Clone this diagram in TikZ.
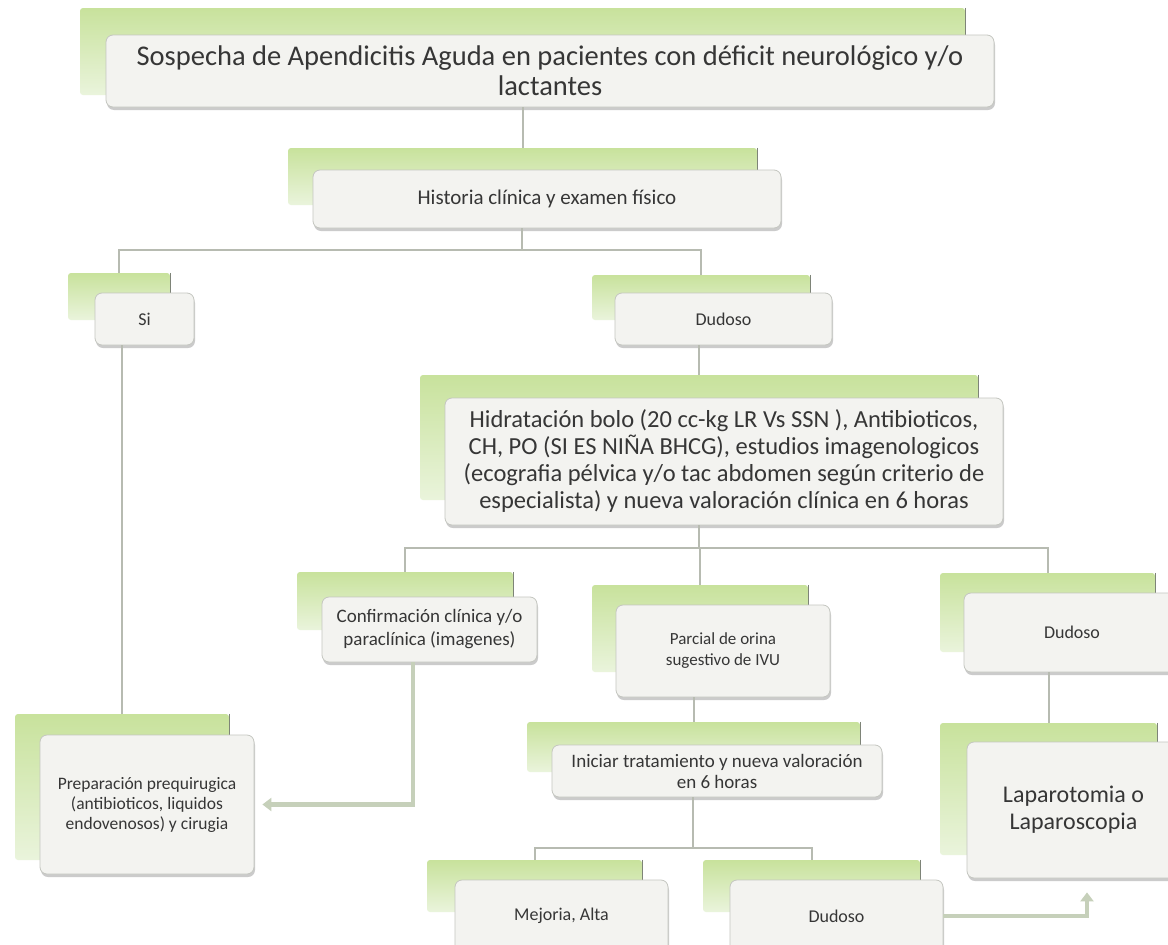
\documentclass[tikz,border=0pt]{standalone}
\usepackage{fontspec}
\setmainfont{Carlito}
\usetikzlibrary{shadows,arrows.meta,calc}
\definecolor{gtop}{HTML}{C8E29C}
\definecolor{gbot}{HTML}{EAF4DC}
\definecolor{gedgec}{HTML}{7E8478}
\definecolor{wfill}{HTML}{F3F3F0}
\definecolor{wdraw}{HTML}{C4C6C0}
\definecolor{lcol}{HTML}{B7BBB1}
\definecolor{acol}{HTML}{C6D0BA}
\definecolor{txt}{HTML}{363636}
\tikzset{
  gbox/.style={inner sep=0pt, rounded corners=3pt, top color=gtop, bottom color=gbot, draw=none},
  gedge/.style={draw=gedgec, line width=1.3pt},
  wbox/.style={inner sep=0pt, rounded corners=7pt, fill=wfill, draw=wdraw, line width=0.8pt,
    drop shadow={shadow xshift=1pt, shadow yshift=-3pt, opacity=0.45, fill=black!45},
    text=txt, align=center},
  conn/.style={draw=lcol, line width=2pt},
  arr/.style={draw=acol, line width=4.5pt, -{Triangle[width=13pt,length=9pt]}},
  fT/.style={font=\fontsize{28.5}{30}\selectfont},
  fH/.style={font=\fontsize{24.5}{27}\selectfont},
  fL/.style={font=\fontsize{24}{27}\selectfont},
  fM/.style={font=\fontsize{21}{24}\selectfont},
  fC/.style={font=\fontsize{19}{23}\selectfont},
  fI/.style={font=\fontsize{19}{21}\selectfont},
  fP/.style={font=\fontsize{17.5}{20}\selectfont},
  fR/.style={font=\fontsize{17}{21}\selectfont},
  fX/.style={font=\fontsize{18}{21}\selectfont},
}
\newcommand{\gnode}[5]{%
  \node[gbox, minimum width={#4-#2}, minimum height={#5-#3}] (#1) at ({(#2+#4)/2},{(#3+#5)/2}) {};
  \draw[gedge] (#1.north east) -- (#1.south east);}
\newcommand{\wnode}[7]{%
  \node[wbox, minimum width={#4-#2}, minimum height={#5-#3}, #6] (#1) at ({(#2+#4)/2},{(#3+#5)/2}) {#7};}
\begin{document}
\begin{tikzpicture}[x=1pt,y=-1pt]
\useasboundingbox (0,0) rectangle (1168,945);
\clip (0,0) rectangle (1168,945);
\fill[white] (0,0) rectangle (1168,945);

% title
\gnode{titleG}{80}{8}{965}{95}
\wnode{title}{106}{35}{994}{107}{fT}{Sospecha de Apendicitis Aguda en pacientes con déficit neurológico y/o\\lactantes}
% historia
\gnode{histG}{288}{148}{757}{205}
\wnode{hist}{313}{170}{781}{228}{fM}{Historia clínica y examen físico}
% si
\gnode{siG}{68}{273}{170}{320}
\wnode{si}{95}{293}{194}{345}{fX}{Si}
% dudoso 1
\gnode{dudaG}{592}{275}{810}{320}
\wnode{duda}{615}{293}{832}{345}{fX}{Dudoso}
% hidratacion
\gnode{hidG}{420}{375}{978}{500}
\wnode{hid}{445}{398}{1003}{525}{fH}{Hidratación bolo (20 cc-kg LR Vs SSN ), Antibioticos,\\CH, PO (SI ES NIÑA BHCG), estudios imagenologicos\\(ecografia pélvica y/o tac abdomen según criterio de\\especialista) y nueva valoración clínica en 6 horas}
% confirmacion
\gnode{confG}{297}{572}{513}{630}
\wnode{conf}{322}{597}{537}{662}{fC}{Confirmación clínica y/o\\paraclínica (imagenes)}
% parcial
\gnode{parcG}{592}{585}{808}{672}
\wnode{parc}{616}{605}{830}{697}{fR}{Parcial de orina\\sugestivo de IVU}
% dudoso 2
\gnode{dudbG}{940}{573}{1155}{652}
\wnode{dudb}{964}{593}{1180}{672}{fX}{Dudoso}
% preparacion
\gnode{prepG}{15}{714}{229}{860}
\wnode{prep}{40}{735}{254}{874}{fP}{Preparación prequirugica\\(antibioticos, liquidos\\endovenosos) y cirugia}
% iniciar
\gnode{inicG}{527}{722}{860}{772}
\wnode{inic}{552}{745}{882}{797}{fI}{Iniciar tratamiento y nueva valoración\\en 6 horas}
% laparotomia
\gnode{lapG}{940}{723}{1157}{855}
\wnode{lap}{967}{742}{1180}{878}{fL}{Laparotomia o\\Laparoscopia}
% mejoria
\gnode{mejG}{427}{860}{642}{912}
\wnode{mej}{455}{880}{668}{952}{fX}{Mejoria, Alta}
% dudoso 3
\gnode{dudcG}{703}{860}{920}{912}
\wnode{dudc}{730}{880}{943}{952}{fX}{Dudoso}

% connectors
\coordinate (b1) at (522,250);
\coordinate (b2) at (699,548);
\coordinate (b3) at (693,848);
\coordinate (ca) at (413,0);
\coordinate (cb) at (1087,0);
\draw[conn] (histG.north) -- (histG.north |- title.south);
\draw[conn] (hist.south -| b1) -- (b1);
\draw[conn] (siG.north) |- (b1) -| (dudaG.north);
\draw[conn] (prepG.north) -- (prepG.north |- si.south);
\draw[conn] (hidG.north) -- (hidG.north |- duda.south);
\draw[conn] (hid.south -| b2) -- (b2);
\draw[conn] (confG.north) |- (b2) -| (dudbG.north);
\draw[conn] (b2 -| parcG.north) -- (parcG.north);
\draw[conn] (inicG.north) -- (inicG.north |- parc.south);
\draw[conn] (lapG.north) -- (lapG.north |- dudb.south);
\draw[conn] (inic.south -| b3) -- (b3);
\draw[conn] (mejG.north) |- (b3) -| (dudcG.north);
\draw[arr, shorten >=8pt] (conf.south -| ca) |- (prep.east);
\draw[arr, shorten >=14pt] (dudc.east) -| (lap.south -| cb);
\end{tikzpicture}
\end{document}
